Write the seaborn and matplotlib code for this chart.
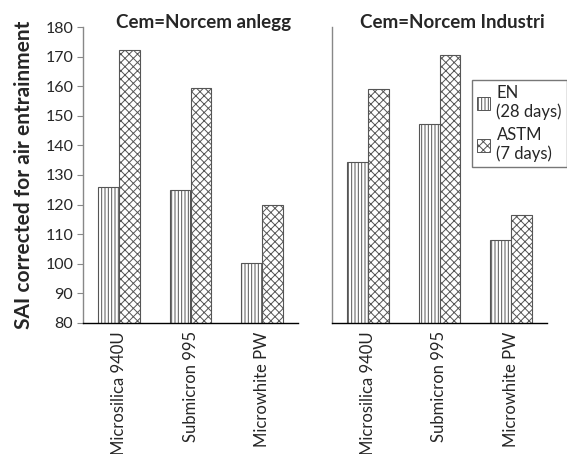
import pandas as pd
import matplotlib
matplotlib.use('Agg')
import matplotlib.pyplot as plt
import seaborn as sns
from matplotlib.patches import Patch

materials = ['Microsilica 940U', 'Submicron 995', 'Microwhite PW']
methods = ['EN\n(28 days)', 'ASTM\n(7 days)']
cements = ['Cem=Norcem anlegg', 'Cem=Norcem Industri']

en_anlegg = [126, 125, 100.2]
astm_anlegg = [172.2, 159.5, 120]
en_industri = [134.3, 147.2, 108.2]
astm_industri = [159, 170.5, 116.5]

HATCHES = ['|||||', 'xxxx']
EDGE = '#555555'

sns.set_style('white')
plt.rcParams['font.family'] = ['Lato', 'DejaVu Sans']
plt.rcParams['hatch.linewidth'] = 0.7
plt.rcParams['hatch.color'] = '#333333'

rows = []
for cem, en, astm in [(cements[0], en_anlegg, astm_anlegg),
                      (cements[1], en_industri, astm_industri)]:
    for m, e, a in zip(materials, en, astm):
        rows.append({'Cement': cem, 'Material': m, 'Method': methods[0], 'SAI': e})
        rows.append({'Cement': cem, 'Material': m, 'Method': methods[1], 'SAI': a})
df = pd.DataFrame(rows)

fig = plt.figure(figsize=(5.67, 4.54), dpi=100)
ax1 = fig.add_axes([83/567, 131/454, 215/567, 296/454])
ax2 = fig.add_axes([332/567, 131/454, 215/567, 296/454])

for ax, cem in zip([ax1, ax2], cements):
    sub = df[df['Cement'] == cem]
    sns.barplot(data=sub, x='Material', y='SAI', hue='Method', order=materials,
                hue_order=methods, ax=ax, width=0.58,
                palette=['white', 'white'], edgecolor=EDGE, linewidth=0.8,
                legend=False, errorbar=None)
    for cont, h in zip(ax.containers, HATCHES):
        for bar in cont:
            bar.set_hatch(h)
    ax.set_ylim(80, 180)
    ax.set_xlabel('')
    ax.set_ylabel('')
    ax.tick_params(axis='x', labelrotation=90, labelsize=12, length=0, pad=6)
    for sp in ['top', 'right']:
        ax.spines[sp].set_visible(False)
    ax.spines['bottom'].set_color('black')
    ax.spines['bottom'].set_linewidth(1.0)
    ax.spines['left'].set_color('#888888')
    ax.spines['left'].set_linewidth(1.0)
    ax.text(0.56, 0.995, cem, transform=ax.transAxes, ha='center', va='baseline',
            fontsize=13.5, fontweight='bold')

ax1.set_yticks(range(80, 181, 10))
ax1.tick_params(axis='y', labelsize=11.5, length=4, width=0.8, color='#888888',
                direction='out', left=True, pad=3)
ax1.set_ylabel('SAI corrected for air entrainment', fontsize=15,
               fontweight='bold', labelpad=8)
ax2.set_yticks([])

handles = [Patch(facecolor='white', edgecolor=EDGE, hatch=h, linewidth=0.7)
           for h in HATCHES]
fig.legend(handles, methods, loc='upper right', bbox_to_anchor=(1.0, 1 - 80/454),
           frameon=True, fancybox=False, edgecolor='#555555', fontsize=12,
           handlelength=0.8, handleheight=0.8, handletextpad=0.4,
           borderpad=0.3, labelspacing=0.4, borderaxespad=0)

fig.savefig('out.png', dpi=100)
